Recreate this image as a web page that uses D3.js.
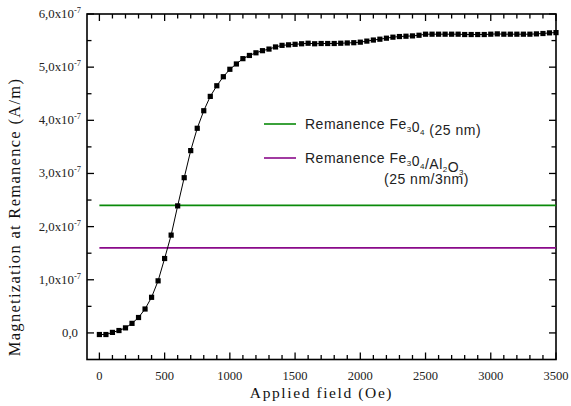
<!DOCTYPE html>
<html>
<head>
<meta charset="utf-8">
<script src="https://cdn.jsdelivr.net/npm/d3@7"></script>
<style>
    body { margin: 0; background: #fff; }
    svg { display: block; }
</style>
</head>
<body>
<script>
// applied field (Oe) and magnetization (x1e-7 A/m)
var fields = [0, 50, 100, 150, 200, 250, 300, 350, 400, 450,
    500, 550, 600, 650, 700, 750, 800, 850, 900, 950,
    1000, 1050, 1100, 1150, 1200, 1250, 1300, 1350, 1400, 1450,
    1500, 1550, 1600, 1650, 1700, 1750, 1800, 1850, 1900, 1950,
    2000, 2050, 2100, 2150, 2200, 2250, 2300, 2350, 2400, 2450,
    2500, 2550, 2600, 2650, 2700, 2750, 2800, 2850, 2900, 2950,
    3000, 3050, 3100, 3150, 3200, 3250, 3300, 3350, 3400, 3450, 3500];
var magnet = [-0.03, -0.03, 0.01, 0.045, 0.095, 0.18, 0.29, 0.45, 0.67, 0.98,
    1.40, 1.84, 2.39, 2.92, 3.43, 3.85, 4.18, 4.45, 4.65, 4.82,
    4.96, 5.06, 5.16, 5.22, 5.27, 5.31, 5.34, 5.38, 5.41, 5.42,
    5.43, 5.44, 5.45, 5.44, 5.445, 5.445, 5.445, 5.45, 5.455, 5.46,
    5.47, 5.49, 5.51, 5.526, 5.545, 5.564, 5.576, 5.582, 5.588, 5.60,
    5.62, 5.62, 5.62, 5.62, 5.62, 5.62, 5.614, 5.614, 5.614, 5.614,
    5.62, 5.626, 5.62, 5.62, 5.62, 5.62, 5.62, 5.626, 5.633, 5.645, 5.65];

// two horizontal remanence levels
var remNames = ["Fe3O4", "Fe3O4/Al2O3"];
var remValues = [2.40, 1.60];
var remColors = ["#0a8a0a", "#8a0a8a"];

var xTicks = [0, 500, 1000, 1500, 2000, 2500, 3000, 3500];
var yTicks = [0, 1, 2, 3, 4, 5, 6];
var yTickLabels = ["0,0", "1,0", "2,0", "3,0", "4,0", "5,0", "6,0"];

var margin = {top: 14, right: 15, bottom: 46.5, left: 87},
    W = 571, H = 406,
    width = W - margin.left - margin.right,
    height = H - margin.top - margin.bottom;

var svg = d3.select("body").append("svg")
    .attr("width", W)
    .attr("height", H);

var g = svg.append("g")
    .attr("transform", "translate(" + margin.left + "," + margin.top + ")");

var x = d3.scaleLinear().domain([-95, 3500]).range([0, width]);
var y = d3.scaleLinear().domain([-0.5, 6.0]).range([height, 0]);

var xMinor = d3.range(100, 3501, 100).filter(function(v) {
    return v % 500 !== 0; });
var yMinor = [0.5, 1.5, 2.5, 3.5, 4.5, 5.5];

// frame
g.append("rect")
    .attr("width", width).attr("height", height)
    .attr("fill", "none").attr("stroke", "#000").attr("stroke-width", 1.6);

var ticks = g.append("g").attr("stroke", "#000").attr("stroke-width", 1.3);
function vTicks(vals, len) {
    vals.forEach(function(v) {
        ticks.append("line").attr("x1", x(v)).attr("x2", x(v))
            .attr("y1", height).attr("y2", height - len);
        ticks.append("line").attr("x1", x(v)).attr("x2", x(v))
            .attr("y1", 0).attr("y2", len);
    });
}
function hTicks(vals, len) {
    vals.forEach(function(v) {
        ticks.append("line").attr("y1", y(v)).attr("y2", y(v))
            .attr("x1", 0).attr("x2", len);
        ticks.append("line").attr("y1", y(v)).attr("y2", y(v))
            .attr("x1", width).attr("x2", width - len);
    });
}
vTicks(xTicks, 7);
vTicks(xMinor, 4.5);
hTicks(yTicks, 7);
hTicks(yMinor, 4.5);

// tick labels
g.selectAll(".xl").data(xTicks).enter().append("text")
    .attr("x", function(d) { return x(d); })
    .attr("y", height + 20)
    .attr("text-anchor", "middle")
    .attr("font-family", "Liberation Serif, Times New Roman, serif")
    .attr("font-size", 12.5).attr("fill", "#222")
    .text(function(d) { return d; });

yTicks.forEach(function(d, i) {
    var t = g.append("text")
        .attr("x", d === 0 ? -9 : -6)
        .attr("y", y(d) + 4)
        .attr("text-anchor", "end")
        .attr("font-family", "Liberation Serif, Times New Roman, serif")
        .attr("font-size", 12.8).attr("fill", "#222");
    t.append("tspan").text(yTickLabels[i] + (d === 0 ? "" : "x10"));
    if (d !== 0) {
        t.append("tspan").attr("dy", -5).attr("font-size", 8.5).text("-7");
    }
});

// axis titles
svg.append("text")
    .attr("x", margin.left + width / 2)
    .attr("y", 398)
    .attr("text-anchor", "middle")
    .attr("font-family", "Liberation Serif, Times New Roman, serif")
    .attr("font-size", 15.5).attr("letter-spacing", 1.6).attr("fill", "#111")
    .text("Applied field (Oe)");

svg.append("text")
    .attr("transform", "translate(20," + 217 + ") rotate(-90)")
    .attr("text-anchor", "middle")
    .attr("font-family", "Liberation Serif, Times New Roman, serif")
    .attr("font-size", 16.5).attr("letter-spacing", 1.3).attr("fill", "#111")
    .text("Magnetization at Remanence (A/m)");

// remanence lines
remValues.forEach(function(v, i) {
    g.append("line")
        .attr("x1", x(0)).attr("x2", x(3500))
        .attr("y1", y(v)).attr("y2", y(v))
        .attr("stroke", remColors[i]).attr("stroke-width", 1.6);
});

// data curve
var pts = fields.map(function(f, i) { return [f, magnet[i]]; });
var line = d3.line()
    .x(function(d) { return x(d[0]); })
    .y(function(d) { return y(d[1]); });
g.append("path").datum(pts)
    .attr("d", line).attr("fill", "none")
    .attr("stroke", "#000").attr("stroke-width", 1);
g.selectAll(".pt").data(pts).enter().append("rect")
    .attr("x", function(d) { return x(d[0]) - 2.6; })
    .attr("y", function(d) { return y(d[1]) - 2.6; })
    .attr("width", 5.2).attr("height", 5.2)
    .attr("fill", "#000");

// legend
var leg = svg.append("g")
    .attr("font-family", "Liberation Sans, Arial, sans-serif")
    .attr("font-size", 14).attr("fill", "#222").attr("letter-spacing", 0.5);
var legY = [124, 158];
remValues.forEach(function(v, i) {
    leg.append("line")
        .attr("x1", 264).attr("x2", 296)
        .attr("y1", legY[i]).attr("y2", legY[i])
        .attr("stroke", remColors[i]).attr("stroke-width", 1.6);
});
// subscripts drop a little and shrink, then the baseline comes back
function chem(t, parts) {
    parts.forEach(function(p) {
        if (p.sub) {
            t.append("tspan").attr("dy", 3).attr("font-size", 8)
                .text(p.sub);
            t.append("tspan").attr("dy", -3).text("");
        } else {
            t.append("tspan").text(p.t);
        }
    });
}
var t1 = leg.append("text").attr("x", 305).attr("y", legY[0] + 5);
chem(t1, [{t: "Remanence Fe"}, {sub: "3"}, {t: "0"}, {sub: "4"},
    {t: " (25 nm)"}]);
var t2 = leg.append("text").attr("x", 305).attr("y", legY[1] + 4.5);
chem(t2, [{t: "Remanence Fe"}, {sub: "3"}, {t: "0"}, {sub: "4"},
    {t: "/Al"}, {sub: "2"}, {t: "O"}, {sub: "3"}]);
leg.append("text").attr("x", 384).attr("y", 184)
    .text("(25 nm/3nm)");
</script>
</body>
</html>
